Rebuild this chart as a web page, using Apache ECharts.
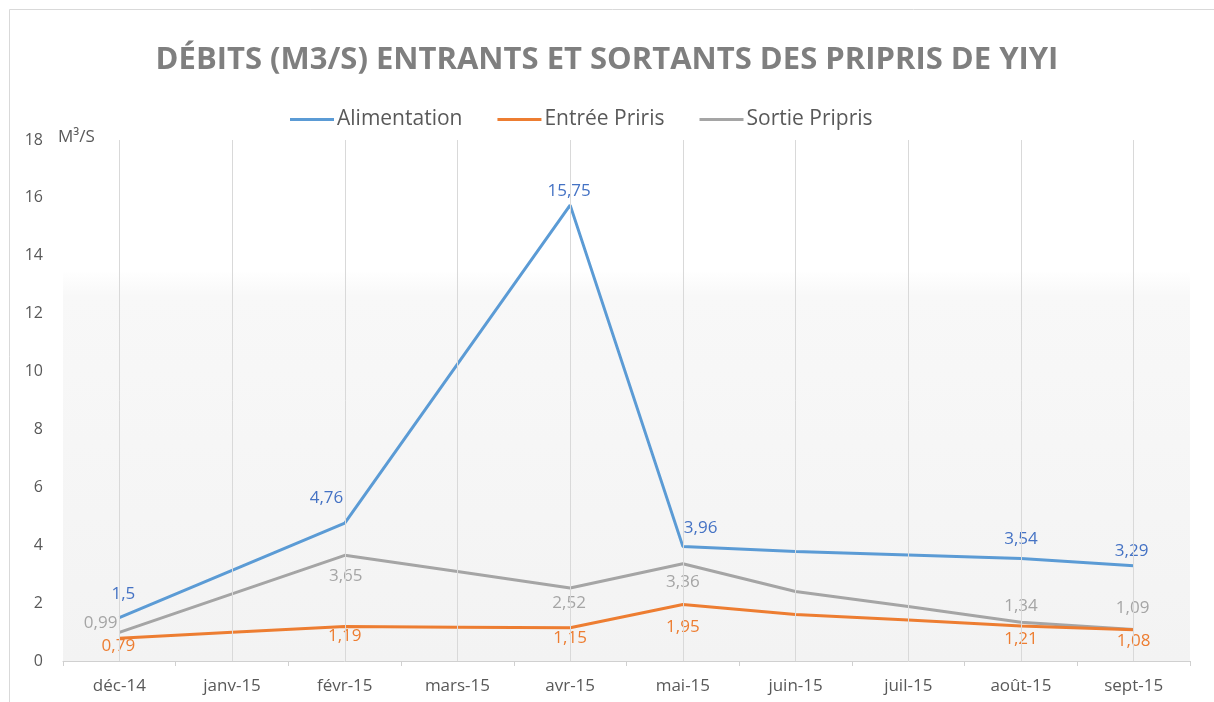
<!DOCTYPE html>
<html>
<head>
<meta charset="utf-8">
<script src="https://cdn.jsdelivr.net/npm/echarts@6/dist/echarts.min.js"></script>
<style>
  html, body { margin: 0; padding: 0; background: #fff; }
  #chart { width: 1214px; height: 702px; }
</style>
</head>
<body>
<div id="chart"></div>
<script>
// Months of the observation period
const months = ['déc-14', 'janv-15', 'févr-15', 'mars-15', 'avr-15', 'mai-15', 'juin-15', 'juil-15', 'août-15', 'sept-15'];

// Flow rates in m³/s
const alimentation = [1.5, 3.13, 4.76, 10.26, 15.75, 3.96, 3.78, 3.66, 3.54, 3.29];
const entreePriris = [0.79, 0.99, 1.19, 1.17, 1.15, 1.95, 1.61, 1.42, 1.21, 1.08];
const sortiePripris = [0.99, 2.32, 3.65, 3.09, 2.52, 3.36, 2.4, 1.88, 1.34, 1.09];

// Months whose values are printed on the chart
const labelledIdx = [0, 2, 4, 5, 8, 9];

// Y axis scale
const yMin = 0, yMax = 18, yStep = 2;

const FONT = '"Open Sans", "DejaVu Sans", sans-serif';
const textGray = '#595959';

function labelled(values, placement, color) {
  return values.map((v, i) => {
    if (!labelledIdx.includes(i)) return v;
    const p = placement[i] || { position: 'top' };
    return {
      value: v,
      label: Object.assign({
        show: true,
        color: color,
        fontSize: 17,
        fontFamily: FONT,
        formatter: (prm) => String(prm.value).replace('.', ',')
      }, p)
    };
  });
}

const chart = echarts.init(document.getElementById('chart'));

const option = {
  animation: false,
  backgroundColor: '#fff',
  title: {
    text: 'DÉBITS (M3/S) ENTRANTS ET SORTANTS DES PRIPRIS DE YIYI',
    left: 'center',
    top: 40,
    textStyle: { color: '#7f7f7f', fontSize: 31, fontWeight: 'bold', fontFamily: FONT }
  },
  legend: {
    top: 104,
    left: 285,
    itemWidth: 44,
    itemHeight: 3,
    itemGap: 35,
    icon: 'rect',
    textStyle: { color: textGray, fontSize: 21, fontFamily: FONT, padding: [0, 0, 0, -2] },
    data: ['Alimentation', 'Entrée Priris', 'Sortie Pripris']
  },
  grid: {
    left: 63, right: 24, top: 140, bottom: 41,
    show: true,
    borderWidth: 0,
    backgroundColor: new echarts.graphic.LinearGradient(0, 0, 0, 1, [
      { offset: 0, color: '#ffffff' },
      { offset: 0.25, color: '#ffffff' },
      { offset: 0.3, color: '#f8f8f8' },
      { offset: 1, color: '#f3f3f3' }
    ])
  },
  xAxis: {
    type: 'category',
    data: months,
    boundaryGap: true,
    axisLine: { lineStyle: { color: '#d0d0d0', width: 1 } },
    axisTick: { show: true, length: 5, lineStyle: { color: '#d0d0d0' } },
    axisLabel: { color: textGray, fontSize: 17, fontFamily: FONT, margin: 17 },
    splitLine: { show: false }
  },
  yAxis: {
    type: 'value',
    min: yMin, max: yMax, interval: yStep,
    axisLine: { show: false },
    axisTick: { show: false },
    axisLabel: { color: textGray, fontSize: 16, fontFamily: FONT, margin: 20 },
    splitLine: { show: false }
  },
  graphic: [
    {
      type: 'rect', silent: true, z: -1,
      shape: { x: 9.5, y: 9.5, width: 1212, height: 700 },
      style: { fill: 'none', stroke: '#d9d9d9', lineWidth: 1 }
    },
    {
      type: 'text', left: 58, top: 129,
      style: { text: 'M³/S', fill: textGray, fontSize: 17, fontFamily: FONT }
    }
  ],
  series: [
    {
      name: 'Alimentation',
      type: 'line',
      data: labelled(alimentation, {
        0: { position: 'top', distance: 8, offset: [4, -7] },
        2: { position: [-26, -34], offset: [-9, 0] },
        4: { position: 'top', distance: 2, offset: [-1, -3] },
        5: { position: [2, -30], offset: [-1, 3] },
        8: { position: 'top', distance: 6, offset: [0, -5] },
        9: { position: 'top', distance: 6, offset: [-2, 0] }
      }, '#4472c4'),
      color: '#5b9bd5',
      lineStyle: { width: 3 },
      symbol: 'circle',
      symbolSize: 0,
      z: 4,
      markLine: {
        silent: true,
        symbol: 'none',
        label: { show: false },
        lineStyle: { color: '#d9d9d9', width: 1, type: 'solid' },
        data: months.map(m => ({ xAxis: m }))
      }
    },
    {
      name: 'Entrée Priris',
      type: 'line',
      data: labelled(entreePriris, {
        0: { position: 'bottom', distance: 0, offset: [-1, 0] },
        2: { position: 'bottom', distance: 0, offset: [0, 1] },
        4: { position: 'bottom', distance: 0, offset: [0, 2] },
        5: { position: 'bottom', distance: 6, offset: [0, 8] },
        8: { position: 'bottom', distance: 0, offset: [0, 5] },
        9: { position: 'bottom', distance: 0, offset: [0, 3] }
      }, '#ed7d31'),
      color: '#ed7d31',
      lineStyle: { width: 3 },
      symbol: 'circle',
      symbolSize: 0,
      z: 3
    },
    {
      name: 'Sortie Pripris',
      type: 'line',
      data: labelled(sortiePripris, {
        0: { position: 'left', distance: -6, offset: [-8, -9] },
        2: { position: 'bottom', distance: 4, offset: [1, 8] },
        4: { position: 'bottom', distance: 0, offset: [-1, 7] },
        5: { position: 'bottom', distance: 2, offset: [0, 8] },
        8: { position: 'top', distance: 6, offset: [0, -2] },
        9: { position: 'top', distance: 6, offset: [-1, -7] }
      }, '#a5a5a5'),
      color: '#a5a5a5',
      lineStyle: { width: 3 },
      symbol: 'circle',
      symbolSize: 0,
      z: 2
    }
  ]
};

chart.setOption(option);
</script>
</body>
</html>
